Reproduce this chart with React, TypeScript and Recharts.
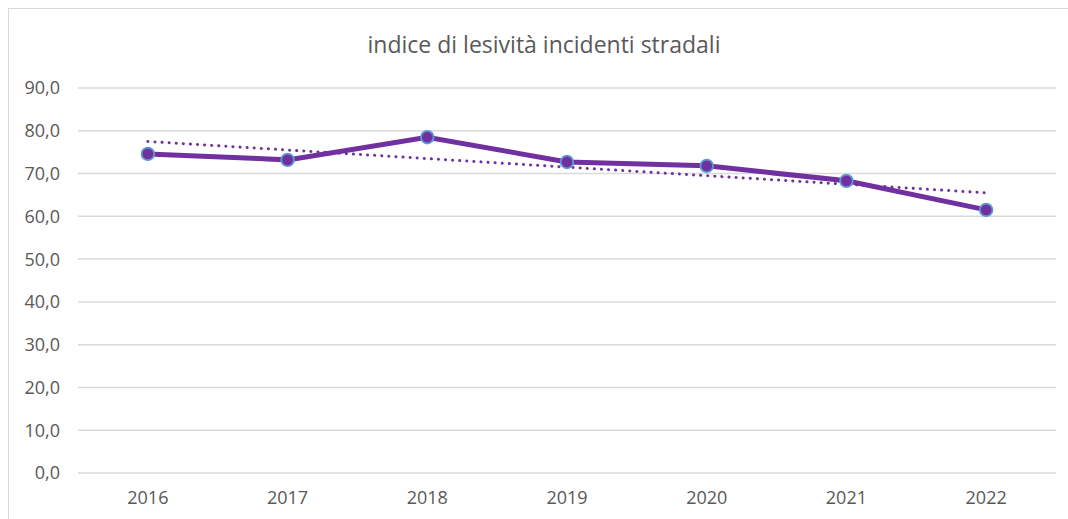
import React from "react";
import { LineChart, Line, XAxis, YAxis, CartesianGrid } from "recharts";

const years = ["2016", "2017", "2018", "2019", "2020", "2021", "2022"];
const indice = [74.6, 73.2, 78.5, 72.7, 71.8, 68.3, 61.5];
const trend = [77.5, null, null, null, null, null, 65.5];
const yTicks = [0, 10, 20, 30, 40, 50, 60, 70, 80, 90];
const title = "indice di lesività incidenti stradali";

const data = years.map((y, i) => ({ year: y, indice: indice[i], trend: trend[i] }));

const FONT = "'Open Sans', 'Noto Sans', sans-serif";
const TEXT = "#595959";

const fmt = (v: number) => v.toFixed(1).replace(".", ",");

export default function App() {
  return (
    <div
      style={{
        position: "fixed",
        top: 8,
        left: 8,
        width: 1059,
        height: 510,
        borderTop: "1px solid #d9d9d9",
        borderLeft: "1px solid #d9d9d9",
        background: "#fff",
        fontFamily: FONT,
        overflow: "hidden",
      }}
    >
      <div
        style={{
          position: "absolute",
          top: 20,
          left: 0,
          width: 1070,
          textAlign: "center",
          fontSize: 23,
          color: TEXT,
          fontFamily: FONT,
          lineHeight: "30px",
        }}
      >
        {title}
      </div>
      <LineChart
        width={1059}
        height={510}
        data={data}
        margin={{ top: 79, right: 12, bottom: 0, left: 0 }}
      >
        <CartesianGrid vertical={false} stroke="#d9d9d9" strokeWidth={1.5} />
        <XAxis
          dataKey="year"
          scale="band"
          axisLine={false}
          tickLine={false}
          tickSize={0}
          tickMargin={18}
          height={46}
          tick={{ fill: TEXT, fontSize: 18, fontFamily: FONT }}
        />
        <YAxis
          domain={[0, 90]}
          ticks={yTicks}
          tickFormatter={fmt}
          axisLine={false}
          tickLine={false}
          tickSize={0}
          tickMargin={18}
          width={69}
          tick={{ fill: TEXT, fontSize: 18, fontFamily: FONT }}
        />
        <Line
          dataKey="indice"
          stroke="#7030A0"
          strokeWidth={5}
          dot={{ r: 6.3, fill: "#7030A0", stroke: "#5B9BD5", strokeWidth: 1.8 }}
          activeDot={false}
          isAnimationActive={false}
        />
        <Line
          dataKey="trend"
          connectNulls
          stroke="#7030A0"
          strokeWidth={3}
          strokeDasharray="0.1 7"
          strokeLinecap="round"
          dot={false}
          activeDot={false}
          isAnimationActive={false}
        />
      </LineChart>
    </div>
  );
}
